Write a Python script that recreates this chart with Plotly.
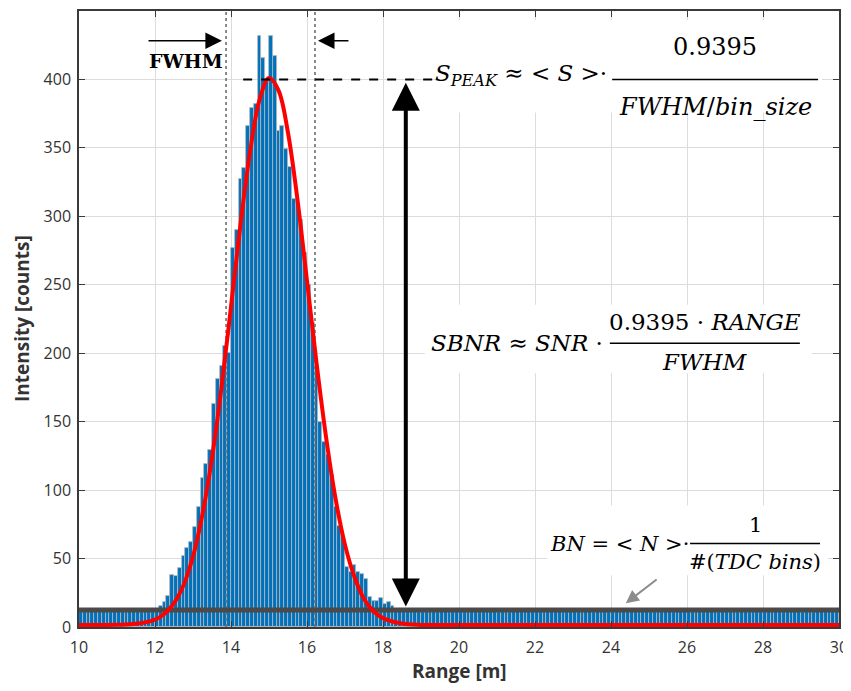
import numpy as np
import plotly.graph_objects as go

# === datos del histograma (bins de 0.1 m entre 10 y 30 m) ===
bin_start = 10.0
bin_size = 0.1

counts_left = [12, 11, 12, 13, 12, 11, 12, 12, 11, 13, 12, 12, 11, 12, 13, 12, 11, 12]
counts_peak = [12, 11, 13, 15, 18, 23, 38, 37, 43, 52,
               58, 62, 73, 88, 109, 119, 129, 163, 181, 191,
               205, 200, 277, 290, 327, 335, 366, 379, 382, 432,
               416, 398, 432, 417, 362, 366, 349, 336, 313, 311,
               297, 273, 250, 222, 190, 150, 135, 126, 111, 88,
               74, 66, 44, 40, 45, 40, 39, 35, 22, 19,
               19, 21, 17, 18, 15, 13, 12]
counts_right = [12, 11, 12, 13, 12, 11, 12, 12, 13, 11,
                12, 12, 11, 13, 12, 12, 11, 12, 13, 12,
                11, 12, 12, 13, 12, 11, 12, 12, 11, 13,
                12, 12, 11, 12, 13, 12, 12, 11, 12, 12,
                13, 12, 11, 12, 12, 13, 12, 11, 12, 12,
                11, 12, 13, 12, 12, 11, 12, 13, 12, 11,
                12, 12, 11, 13, 12, 12, 11, 12, 12, 13,
                12, 11, 12, 12, 13, 12, 11, 12, 12, 11,
                13, 12, 12, 11, 12, 12, 13, 12, 11, 12,
                12, 11, 13, 12, 12, 11, 12, 12, 13, 12,
                11, 12, 12, 13, 12, 11, 12, 12, 11, 13,
                12, 12, 11, 12, 12]
counts = counts_left + counts_peak + counts_right
centers = bin_start + bin_size * (np.arange(len(counts)) + 0.5)

# curva de ajuste (roja)
fit_x = [10, 11, 11.5, 12, 12.25, 12.5, 12.75, 13, 13.25, 13.5, 13.75, 14, 14.25,
         14.5, 14.75, 15, 15.25, 15.5, 15.75, 16, 16.25, 16.5, 16.75, 17, 17.25,
         17.5, 17.75, 18, 18.5, 19, 20, 30]
fit_y = [1.5, 1.6, 2.3, 5.4, 9.7, 17.4, 30.5, 51.5, 82.5, 123.5, 175, 234, 294,
         347, 385, 401, 392, 361, 312, 253, 193, 139, 94, 60, 36.5,
         20.5, 11.5, 6.5, 2.5, 1.5, 1.5, 1.5]

background_level = 12.5
peak_level = 400
fwhm_edges = [13.87, 16.21]

fig = go.Figure()

# lineas punteadas del FWHM
for xe in fwhm_edges:
    fig.add_trace(go.Scatter(x=[xe, xe], y=[0, 450], mode="lines",
                             line=dict(color="#6e6e6e", width=1.6, dash="dot"),
                             hoverinfo="skip"))

fig.add_trace(go.Bar(x=centers, y=counts, width=bin_size,
                     marker=dict(color="#0072BD", line=dict(color="#b9b9b9", width=0.8))))

fig.add_trace(go.Scatter(x=[10, 30], y=[background_level, background_level], mode="lines",
                         line=dict(color="#4a4a4a", width=5)))

fig.add_trace(go.Scatter(x=fit_x, y=fit_y, mode="lines", line_shape="spline",
                         line=dict(color="#ff0000", width=4)))

fig.add_trace(go.Scatter(x=[14.32, 19.37], y=[peak_level, peak_level], mode="lines",
                         line=dict(color="black", width=2, dash="dash")))

# cajas blancas detras de las formulas
for x0, x1, y0, y1 in [(19.5, 29.55, 375.8, 443.4), (19.1, 29.29, 185.4, 235.5),
                       (22.32, 29.71, 37.8, 88.7)]:
    fig.add_shape(type="rect", x0=x0, x1=x1, y0=y0, y1=y1, fillcolor="white",
                  line=dict(width=0), layer="above")

# barras de fraccion
for x0, x1, yy in [(24.03, 29.45, 400), (23.97, 28.97, 207.2), (26.08, 29.5, 61)]:
    fig.add_shape(type="line", x0=x0, x1=x1, y0=yy, y1=yy,
                  line=dict(color="black", width=1.5), layer="above")

textos = [
    (23.95, 403.5, "right", 23, "<i>S</i><sub><i>PEAK</i></sub> ≈ < <i>S</i> >·"),
    (26.74, 423.5, "center", 24, "0.9395"),
    (26.74, 380.0, "center", 24, "<i>FWHM</i>/<i>bin_size</i>"),
    (23.85, 207.2, "right", 23, "<i>SBNR</i> ≈ <i>SNR</i> ·"),
    (26.47, 222.5, "center", 23, "0.9395 · <i>RANGE</i>"),
    (26.47, 193.5, "center", 23, "<i>FWHM</i>"),
    (26.1, 61, "right", 21, "<i>BN</i> = < <i>N</i> >·"),
    (27.79, 74.5, "center", 21, "1"),
    (27.79, 47.5, "center", 21, "#(<i>TDC bins</i>)"),
]
for x, y, anc, sz, t in textos:
    fig.add_annotation(x=x, y=y, text=t, xanchor=anc, yanchor="middle",
                       showarrow=False,
                       font=dict(family="DejaVu Serif", size=sz, color="black"))

# flechas
fig.add_annotation(x=18.6, y=397.6, ax=18.6, ay=13.8, axref="x", ayref="y", text="",
                   showarrow=True, arrowhead=2, arrowside="end+start",
                   arrowsize=1.4, arrowwidth=4, arrowcolor="black")
fig.add_annotation(x=13.76, y=428.2, ax=11.79, ay=428.2, axref="x", ayref="y", text="",
                   showarrow=True, arrowhead=2, arrowsize=2.2, arrowwidth=1.5,
                   arrowcolor="black")
fig.add_annotation(x=16.29, y=428.2, ax=17.13, ay=428.2, axref="x", ayref="y", text="",
                   showarrow=True, arrowhead=2, arrowsize=2.2, arrowwidth=1.5,
                   arrowcolor="black")
fig.add_annotation(x=24.39, y=17.4, ax=25.24, ay=35.6, axref="x", ayref="y", text="",
                   showarrow=True, arrowhead=2, arrowsize=1.3, arrowwidth=2,
                   arrowcolor="#8c8c8c")
fig.add_annotation(x=12.82, y=413.6, text="<b>FWHM</b>", showarrow=False,
                   font=dict(family="DejaVu Serif", size=19, color="black"))

# titulos de ejes
fig.add_annotation(x=0.5, y=-0.071, xref="paper", yref="paper", text="<b>Range [m]</b>",
                   showarrow=False, yanchor="middle",
                   font=dict(family="Open Sans", size=19, color="#333"))
fig.add_annotation(x=-0.075, y=0.5, xref="paper", yref="paper",
                   text="<b>Intensity [counts]</b>", textangle=-90, showarrow=False,
                   xanchor="center", font=dict(family="Open Sans", size=19, color="#333"))

ejes = dict(showgrid=True, gridcolor="#dcdcdc", gridwidth=1, showline=True,
            linecolor="#3a3a3a", linewidth=1.5, mirror="ticks", ticks="inside",
            ticklen=6, tickcolor="#3a3a3a", zeroline=False,
            tickfont=dict(family="Open Sans", size=16, color="#333"))
fig.update_xaxes(range=[10, 30], tickvals=list(range(10, 31, 2)),
                 ticklabelstandoff=5, **ejes)
fig.update_yaxes(range=[0, 450], tickvals=list(range(0, 451, 50)),
                 ticklabelstandoff=3, **ejes)

# la pagina tiene 8 px de margen en el body: la figura se ajusta a eso
fig.update_layout(width=843, height=675, margin=dict(l=71, r=12, t=1, b=56),
                  plot_bgcolor="white", paper_bgcolor="white", showlegend=False,
                  bargap=0)

fig.write_html("out.html")
